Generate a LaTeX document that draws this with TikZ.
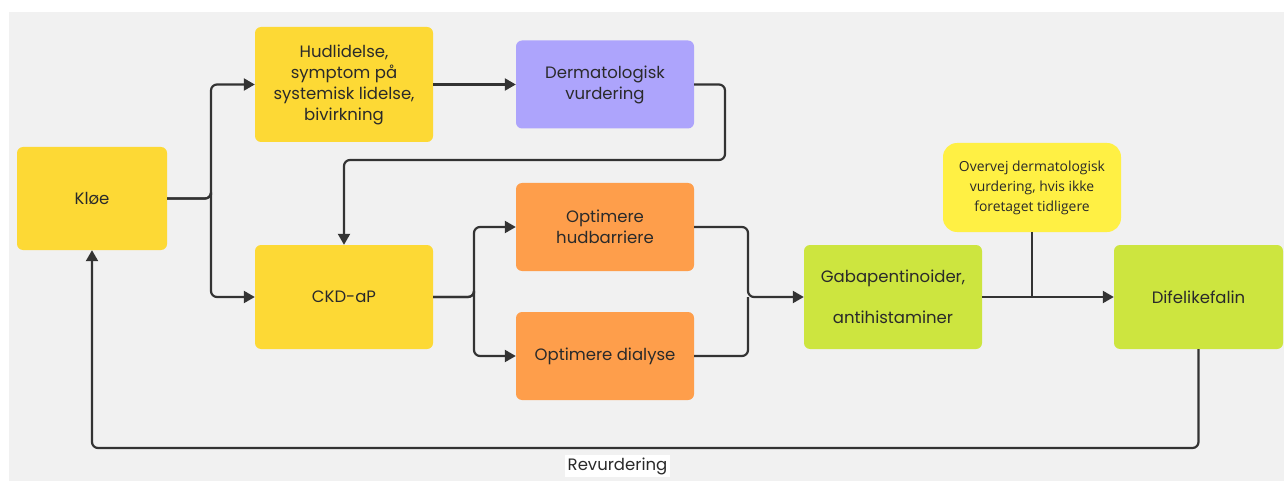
\documentclass[tikz,border=0pt]{standalone}
\usepackage{fontspec}
\setmainfont{Poppins}
\newfontfamily\notefont{Open Sans}
\usetikzlibrary{arrows.meta}
\definecolor{bg}{HTML}{F1F1F1}
\definecolor{cyel}{HTML}{FDD935}
\definecolor{cpur}{HTML}{ADA4FC}
\definecolor{cora}{HTML}{FE9E4B}
\definecolor{cgrn}{HTML}{CDE53F}
\definecolor{cnote}{HTML}{FFF044}
\definecolor{cline}{HTML}{333333}
\definecolor{ctext}{HTML}{2A2A2A}
\tikzset{
  box/.style={rounded corners=6pt, minimum width=178pt, minimum height=88pt, align=center, text=ctext, font=\fontsize{16.5}{21}\selectfont, inner sep=2pt},
  conn/.style={draw=cline, line width=2.2pt, rounded corners=6pt},
  arr/.style={conn, -{Triangle[length=11pt,width=12pt]}},
}
\begin{document}
\begin{tikzpicture}[x=1pt,y=-1pt]
\useasboundingbox (0,0) rectangle (1284,481);
\fill[white] (0,0) rectangle (1284,481);
\fill[bg] (9,12) rectangle (1284,481);
% nodes
\node[box, fill=cyel, minimum width=150pt, minimum height=103pt] (kloe) at (92,198.5) {Kløe};
\node[box, fill=cyel, minimum height=115pt] (hud) at (344,84.5) {Hudlidelse,\\symptom på\\systemisk lidelse,\\bivirkning};
\node[box, fill=cpur] (derm) at (605,84.5) {Dermatologisk\\vurdering};
\node[box, fill=cyel, minimum height=104pt] (ckd) at (344,297) {CKD-aP};
\node[box, fill=cora] (oh) at (605,227) {Optimere\\hudbarriere};
\node[box, fill=cora] (od) at (605,356) {Optimere dialyse};
\node[box, fill=cgrn, minimum height=104pt, font=\fontsize{16.5}{41}\selectfont] (gaba) at (893,297) {Gabapentinoider,\\antihistaminer};
\node[box, fill=cnote, minimum height=89pt, rounded corners=14pt, font=\notefont\fontsize{13.9}{20}\selectfont] (note) at (1032,187.5) {Overvej dermatologisk\\vurdering, hvis ikke\\foretaget tidligere};
\node[box, fill=cgrn, minimum width=169pt, minimum height=104pt] (dif) at (1198.5,297) {Difelikefalin};
% coordinates
\coordinate (b1) at (211,198.5);
\coordinate (b2) at (474,297);
\coordinate (b3) at (748,297);
\coordinate (j) at (1032,297);
% connectors
\draw[arr] (kloe.east) -| (b1) |- (hud.west);
\draw[arr] (kloe.east) -| (b1) |- (ckd.west);
\draw[arr] (hud.east) -- (derm.west);
\draw[arr] (derm.east) -| (725,160) -| (ckd.north);
\draw[arr] (ckd.east) -| (b2) |- (oh.west);
\draw[arr] (ckd.east) -| (b2) |- (od.west);
\draw[arr] (oh.east) -| (b3) -- (gaba.west);
\draw[conn] (od.east) -| (b3);
\draw[arr] (gaba.east) -- (dif.west);
\draw[conn] (note.south) -- (j);
\draw[arr] (dif.south) |- (92,448) -- (kloe.south);
\node[fill=white, inner sep=2.5pt, text=ctext, font=\fontsize{16.5}{18}\selectfont] (rev) at (617.5,466) {Revurdering};
\end{tikzpicture}
\end{document}
